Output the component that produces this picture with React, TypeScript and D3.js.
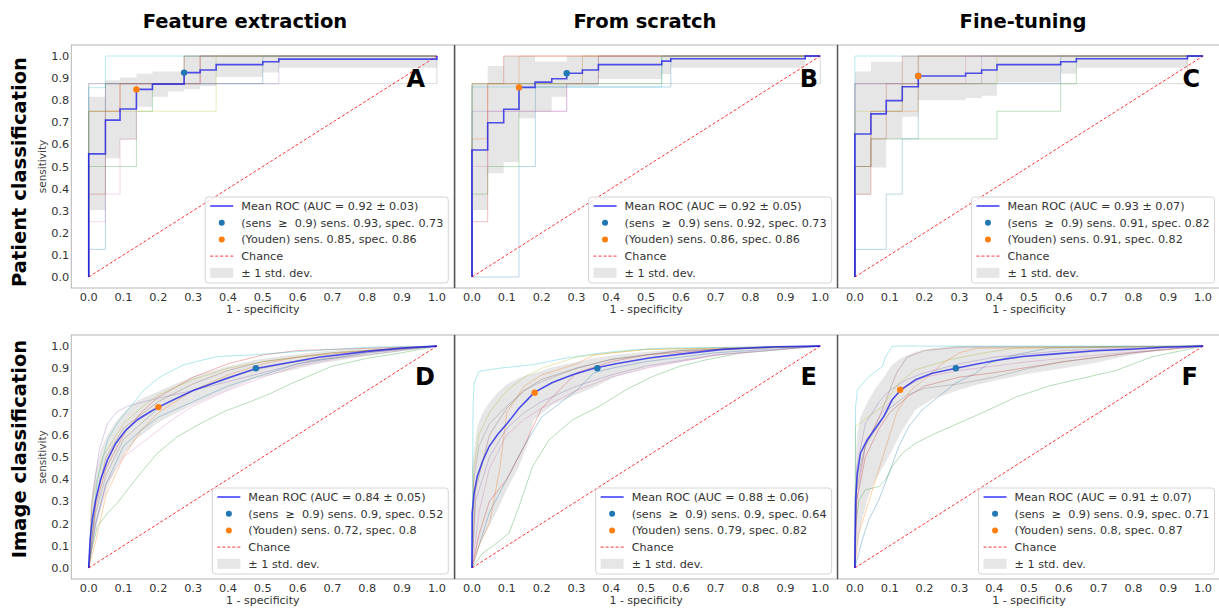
import React, { useEffect, useRef } from "react";
import * as d3 from "d3";

type Pt = [number, number];
type StepFold = { x: number[]; y: number[] };

const FONT = "'DejaVu Sans', 'Liberation Sans', sans-serif";
const FOLD_COLORS = ["#1f77b4", "#ff7f0e", "#2ca02c", "#d62728", "#9467bd", "#8c564b", "#e377c2", "#7f7f7f", "#bcbd22", "#17becf"];

const colTitles = ["Feature extraction", "From scratch", "Fine-tuning"];
const rowTitles = ["Patient classification", "Image classification"];
const panelLetters = ["A", "B", "C", "D", "E", "F"];
const tickValues = [0, 0.1, 0.2, 0.3, 0.4, 0.5, 0.6, 0.7, 0.8, 0.9, 1.0];
const xLabel = "1 - specificity";
const yLabel = "sensitivity";

// legend texts
const meanLabels = [
  "Mean ROC (AUC = 0.92 ± 0.03)",
  "Mean ROC (AUC = 0.92 ± 0.05)",
  "Mean ROC (AUC = 0.93 ± 0.07)",
  "Mean ROC (AUC = 0.84 ± 0.05)",
  "Mean ROC (AUC = 0.88 ± 0.06)",
  "Mean ROC (AUC = 0.91 ± 0.07)",
];
const sensLabels = [
  "(sens  ≥  0.9) sens. 0.93, spec. 0.73",
  "(sens  ≥  0.9) sens. 0.92, spec. 0.73",
  "(sens  ≥  0.9) sens. 0.91, spec. 0.82",
  "(sens  ≥  0.9) sens. 0.9, spec. 0.52",
  "(sens  ≥  0.9) sens. 0.9, spec. 0.64",
  "(sens  ≥  0.9) sens. 0.9, spec. 0.71",
];
const youdenLabels = [
  "(Youden) sens. 0.85, spec. 0.86",
  "(Youden) sens. 0.86, spec. 0.86",
  "(Youden) sens. 0.91, spec. 0.82",
  "(Youden) sens. 0.72, spec. 0.8",
  "(Youden) sens. 0.79, spec. 0.82",
  "(Youden) sens. 0.8, spec. 0.87",
];
const chanceLabel = "Chance";
const stdLabel = "± 1 std. dev.";

// operating points [1 - specificity, sensitivity]
const sensPoints: Pt[] = [[0.274, 0.925], [0.272, 0.922], [0.182, 0.91], [0.48, 0.9], [0.36, 0.9], [0.29, 0.9]];
const youdenPoints: Pt[] = [[0.137, 0.849], [0.135, 0.858], [0.182, 0.91], [0.2, 0.725], [0.18, 0.79], [0.13, 0.803]];

// ---- Panel A (patient, feature extraction): step curves
const aStepX = [0, 0.048, 0.09, 0.137, 0.183, 0.228, 0.274, 0.32, 0.366, 0.5, 0.546, 1.0];
const aMean = [0.557, 0.71, 0.76, 0.849, 0.873, 0.873, 0.925, 0.937, 0.961, 0.974, 0.986, 1.0];
const aUpper = [0.816, 0.891, 0.903, 0.92, 0.93, 0.93, 1, 1, 1, 1, 1, 1];
const aLower = [0.303, 0.537, 0.62, 0.77, 0.816, 0.84, 0.85, 0.864, 0.905, 0.925, 0.947, 1.0];
const aFolds: StepFold[] = [
  { x: [0, 0.048, 0.5], y: [0.125, 0.875, 1.0] },
  { x: [0, 0.09, 0.32], y: [0.75, 0.875, 1.0] },
  { x: [0, 0.137, 0.183, 0.274], y: [0.5, 0.75, 0.875, 1.0] },
  { x: [0, 0.048, 0.09, 0.274], y: [0.375, 0.75, 0.875, 1.0] },
  { x: [0, 0.546], y: [0.875, 1.0] },
  { x: [0, 0.048, 0.32], y: [0.75, 0.875, 1.0] },
  { x: [0, 0.048, 0.09, 0.137, 0.32], y: [0.25, 0.375, 0.625, 0.875, 1.0] },
  { x: [0, 1.0], y: [0.875, 1.0] },
  { x: [0, 0.366], y: [0.75, 1.0] },
  { x: [0, 0.048], y: [0.857, 1.0] },
];

// ---- Panel B (patient, from scratch)
const bStepX = [0, 0.045, 0.091, 0.135, 0.181, 0.229, 0.272, 0.317, 0.363, 0.545, 0.571, 0.957, 1.0];
const bMean = [0.575, 0.698, 0.759, 0.858, 0.882, 0.897, 0.922, 0.937, 0.961, 0.977, 0.988, 1.0, 1.0];
const bUpper = [0.876, 0.955, 1.0, 1.0, 0.975, 0.975, 1, 1, 1, 1, 1, 1, 1];
const bLower = [0.303, 0.469, 0.52, 0.718, 0.748, 0.816, 0.864, 0.864, 0.896, 0.919, 0.947, 1.0, 1.0];
const bFolds: StepFold[] = [
  { x: [0, 0.135, 0.182, 0.571], y: [0, 0.5, 0.86, 1.0] },
  { x: [0, 0.045, 0.135], y: [0.625, 0.875, 1.0] },
  { x: [0, 0.045, 0.135, 0.545], y: [0.375, 0.5, 0.875, 1.0] },
  { x: [0, 0.045, 0.091], y: [0.25, 0.875, 1.0] },
  { x: [0, 0.272, 0.363], y: [0.75, 0.875, 1.0] },
  { x: [0, 0.363], y: [0.875, 1.0] },
  { x: [0, 0.045, 0.272, 0.317], y: [0.5, 0.75, 0.875, 1.0] },
  { x: [0, 1.0], y: [0.875, 1.0] },
  { x: [0, 0.317], y: [0.875, 1.0] },
  { x: [0, 0.545], y: [0.86, 1.0] },
];

// ---- Panel C (patient, fine-tuning)
const cStepX = [0, 0.046, 0.09, 0.136, 0.182, 0.318, 0.364, 0.408, 0.591, 0.636, 0.955, 1.0];
const cMean = [0.647, 0.738, 0.798, 0.861, 0.91, 0.922, 0.937, 0.961, 0.974, 0.988, 1.0, 1.0];
const cUpper = [0.93, 0.974, 0.974, 1, 1, 1, 1, 1, 1, 1, 1, 1];
const cLower = [0.371, 0.496, 0.623, 0.725, 0.8, 0.81, 0.82, 0.88, 0.92, 0.947, 1.0, 1.0];
const cFolds: StepFold[] = [
  { x: [0, 0.09, 0.136, 0.182, 0.591], y: [0.125, 0.375, 0.625, 0.875, 1.0] },
  { x: [0, 0.046, 0.182], y: [0.5, 0.75, 1.0] },
  { x: [0, 0.046, 0.408, 0.591, 0.636], y: [0.5, 0.625, 0.75, 0.875, 1.0] },
  { x: [0, 0.046, 0.09, 0.136], y: [0.375, 0.625, 0.875, 1.0] },
  { x: [0, 0.364], y: [0.875, 1.0] },
  { x: [0, 0.046, 0.136, 0.182], y: [0.5, 0.75, 0.875, 1.0] },
  { x: [0, 0.318], y: [0.875, 1.0] },
  { x: [0, 0.955], y: [0.875, 1.0] },
  { x: [0, 0.136, 0.408], y: [0.75, 0.875, 1.0] },
  { x: [0], y: [1.0] },
];

// ---- Panel D (image, feature extraction): smooth curves
const dX = [0, 0.004, 0.01, 0.02, 0.034, 0.054, 0.078, 0.106, 0.14, 0.178, 0.2, 0.235, 0.3, 0.39, 0.48, 0.58, 0.66, 0.8, 0.9, 1];
const dMean = [0, 0.126, 0.217, 0.307, 0.397, 0.487, 0.562, 0.62, 0.668, 0.705, 0.725, 0.752, 0.8, 0.851, 0.899, 0.927, 0.95, 0.976, 0.991, 1];
const dUpper = [0, 0.25, 0.35, 0.44, 0.53, 0.6, 0.66, 0.71, 0.755, 0.78, 0.795, 0.82, 0.863, 0.905, 0.938, 0.96, 0.975, 0.992, 0.998, 1];
const dLower = [0, 0.02, 0.09, 0.17, 0.26, 0.36, 0.45, 0.52, 0.585, 0.63, 0.655, 0.685, 0.735, 0.795, 0.855, 0.89, 0.92, 0.955, 0.978, 1];
const dFolds: Pt[][] = [
  [[0, 0], [0.02, 0.2], [0.05, 0.38], [0.1, 0.55], [0.15, 0.62], [0.2, 0.68], [0.3, 0.75], [0.4, 0.82], [0.5, 0.87], [0.6, 0.92], [0.8, 0.97], [1, 1]],
  [[0, 0], [0.02, 0.12], [0.05, 0.33], [0.1, 0.5], [0.15, 0.62], [0.2, 0.7], [0.3, 0.8], [0.4, 0.87], [0.5, 0.92], [0.6, 0.95], [0.8, 0.98], [1, 1]],
  [[0, 0], [0.006, 0.066], [0.025, 0.187], [0.054, 0.247], [0.082, 0.292], [0.111, 0.352], [0.149, 0.427], [0.197, 0.517], [0.255, 0.592], [0.322, 0.652], [0.389, 0.705], [0.465, 0.75], [0.52, 0.785], [0.58, 0.83], [0.64, 0.87], [0.7, 0.91], [0.8, 0.945], [0.9, 0.97], [1, 1]],
  [[0, 0], [0.02, 0.28], [0.05, 0.45], [0.1, 0.6], [0.15, 0.7], [0.2, 0.77], [0.3, 0.86], [0.4, 0.92], [0.5, 0.96], [0.6, 0.98], [0.8, 0.99], [1, 1]],
  [[0, 0], [0.01, 0.307], [0.03, 0.53], [0.054, 0.652], [0.082, 0.705], [0.111, 0.728], [0.149, 0.745], [0.2, 0.765], [0.3, 0.8], [0.4, 0.84], [0.5, 0.88], [0.6, 0.92], [0.7, 0.95], [0.8, 0.975], [1, 1]],
  [[0, 0], [0.02, 0.3], [0.05, 0.5], [0.1, 0.63], [0.2, 0.75], [0.3, 0.83], [0.4, 0.89], [0.5, 0.93], [0.7, 0.97], [1, 1]],
  [[0, 0], [0.02, 0.2], [0.05, 0.38], [0.1, 0.5], [0.15, 0.56], [0.2, 0.62], [0.25, 0.68], [0.3, 0.73], [0.4, 0.8], [0.5, 0.86], [0.6, 0.91], [0.7, 0.94], [0.8, 0.97], [1, 1]],
  [[0, 0], [0.02, 0.25], [0.05, 0.42], [0.1, 0.58], [0.2, 0.72], [0.3, 0.8], [0.4, 0.86], [0.5, 0.9], [0.6, 0.93], [0.8, 0.96], [1, 1]],
  [[0, 0], [0.01, 0.3], [0.04, 0.5], [0.1, 0.65], [0.15, 0.72], [0.2, 0.78], [0.3, 0.85], [0.4, 0.9], [0.5, 0.93], [0.7, 0.97], [1, 1]],
  [[0, 0], [0.006, 0.126], [0.025, 0.397], [0.054, 0.577], [0.082, 0.652], [0.12, 0.728], [0.159, 0.803], [0.207, 0.863], [0.273, 0.916], [0.369, 0.953], [0.465, 0.96], [0.6, 0.975], [0.8, 0.995], [1, 1]],
];

// ---- Panel E (image, from scratch)
const eX = [0, 0.0005, 0.006, 0.015, 0.03, 0.049, 0.073, 0.102, 0.135, 0.16, 0.178, 0.231, 0.289, 0.351, 0.413, 0.509, 0.605, 0.72, 0.87, 1];
const eMean = [0, 0.247, 0.337, 0.412, 0.48, 0.547, 0.6, 0.653, 0.72, 0.76, 0.79, 0.836, 0.871, 0.9, 0.92, 0.946, 0.965, 0.985, 0.997, 1];
const eUpper = [0, 0.45, 0.53, 0.638, 0.698, 0.743, 0.79, 0.83, 0.856, 0.87, 0.878, 0.905, 0.925, 0.945, 0.961, 0.976, 0.986, 0.995, 1, 1];
const eLower = [0, 0.01, 0.036, 0.08, 0.13, 0.19, 0.26, 0.36, 0.457, 0.56, 0.668, 0.735, 0.775, 0.815, 0.863, 0.905, 0.93, 0.96, 0.99, 1];
const eFolds: Pt[][] = [
  [[0, 0], [0.02, 0.1], [0.05, 0.25], [0.1, 0.4], [0.15, 0.55], [0.2, 0.68], [0.3, 0.8], [0.35, 0.88], [0.4, 0.9], [0.5, 0.93], [0.7, 0.97], [1, 1]],
  [[0, 0], [0.02, 0.1], [0.05, 0.2], [0.08, 0.45], [0.1, 0.7], [0.15, 0.82], [0.2, 0.87], [0.3, 0.92], [0.35, 0.96], [0.5, 0.985], [1, 1]],
  [[0, 0], [0.03, 0.066], [0.058, 0.096], [0.106, 0.156], [0.135, 0.277], [0.174, 0.457], [0.221, 0.577], [0.289, 0.668], [0.365, 0.728], [0.442, 0.803], [0.519, 0.863], [0.595, 0.908], [0.672, 0.938], [0.77, 0.968], [1, 1]],
  [[0, 0], [0.02, 0.15], [0.05, 0.3], [0.1, 0.4], [0.15, 0.55], [0.2, 0.72], [0.25, 0.8], [0.3, 0.88], [0.4, 0.93], [0.5, 0.96], [0.7, 0.985], [1, 1]],
  [[0, 0], [0.01, 0.3], [0.05, 0.5], [0.1, 0.63], [0.15, 0.7], [0.2, 0.75], [0.3, 0.82], [0.4, 0.87], [0.5, 0.91], [0.7, 0.96], [1, 1]],
  [[0, 0], [0.01, 0.35], [0.05, 0.6], [0.1, 0.72], [0.15, 0.8], [0.2, 0.85], [0.3, 0.9], [0.4, 0.94], [0.6, 0.98], [1, 1]],
  [[0, 0], [0.02, 0.25], [0.05, 0.45], [0.1, 0.6], [0.15, 0.67], [0.2, 0.72], [0.3, 0.8], [0.4, 0.86], [0.5, 0.9], [0.7, 0.96], [1, 1]],
  [[0, 0], [0.005, 0.4], [0.02, 0.55], [0.05, 0.65], [0.1, 0.73], [0.15, 0.8], [0.2, 0.84], [0.3, 0.9], [0.4, 0.94], [0.6, 0.98], [1, 1]],
  [[0, 0], [0.005, 0.45], [0.02, 0.6], [0.05, 0.7], [0.1, 0.8], [0.15, 0.86], [0.2, 0.9], [0.3, 0.95], [0.4, 0.97], [0.5, 0.985], [1, 1]],
  [[0, 0], [0.003, 0.728], [0.006, 0.833], [0.02, 0.886], [0.078, 0.9], [0.174, 0.916], [0.269, 0.946], [0.365, 0.968], [0.461, 0.983], [0.557, 0.991], [1, 1]],
];

// ---- Panel F (image, fine-tuning)
const fX = [0, 0.0005, 0.002, 0.007, 0.016, 0.035, 0.059, 0.083, 0.107, 0.132, 0.174, 0.222, 0.294, 0.347, 0.404, 0.481, 0.577, 0.692, 0.793, 0.889, 1];
const fMean = [0, 0.126, 0.307, 0.427, 0.517, 0.577, 0.63, 0.683, 0.758, 0.803, 0.848, 0.878, 0.901, 0.918, 0.935, 0.953, 0.965, 0.979, 0.986, 0.995, 1];
const fUpper = [0, 0.35, 0.5, 0.6, 0.68, 0.745, 0.81, 0.86, 0.916, 0.945, 0.975, 0.99, 1, 1, 1, 1, 1, 1, 1, 1, 1];
const fLower = [0, 0, 0.04, 0.1, 0.186, 0.307, 0.397, 0.46, 0.53, 0.61, 0.713, 0.76, 0.8, 0.825, 0.845, 0.871, 0.895, 0.925, 0.96, 0.985, 1];
const fFolds: Pt[][] = [
  [[0, 0], [0.021, 0.126], [0.04, 0.217], [0.069, 0.307], [0.098, 0.427], [0.126, 0.547], [0.155, 0.638], [0.193, 0.713], [0.241, 0.773], [0.289, 0.833], [0.347, 0.878], [0.385, 0.923], [0.462, 0.961], [0.557, 0.991], [1, 1]],
  [[0, 0], [0.01, 0.15], [0.04, 0.3], [0.08, 0.5], [0.12, 0.7], [0.16, 0.8], [0.2, 0.85], [0.25, 0.92], [0.3, 0.97], [0.35, 0.99], [1, 1]],
  [[0, 0], [0.002, 0.19], [0.012, 0.307], [0.03, 0.352], [0.07, 0.367], [0.088, 0.397], [0.107, 0.457], [0.136, 0.517], [0.174, 0.562], [0.232, 0.607], [0.299, 0.653], [0.385, 0.713], [0.462, 0.77], [0.557, 0.82], [0.653, 0.855], [0.75, 0.89], [0.85, 0.95], [1, 1]],
  [[0, 0], [0.005, 0.3], [0.03, 0.5], [0.07, 0.63], [0.1, 0.7], [0.15, 0.77], [0.2, 0.82], [0.3, 0.86], [0.4, 0.88], [0.6, 0.93], [0.8, 0.97], [1, 1]],
  [[0, 0], [0.005, 0.45], [0.03, 0.65], [0.07, 0.75], [0.1, 0.8], [0.15, 0.85], [0.2, 0.88], [0.3, 0.92], [0.4, 0.95], [0.6, 0.98], [1, 1]],
  [[0, 0], [0.005, 0.35], [0.03, 0.55], [0.07, 0.68], [0.1, 0.8], [0.12, 0.88], [0.15, 0.95], [0.2, 0.98], [0.3, 0.995], [1, 1]],
  [[0, 0], [0.005, 0.3], [0.03, 0.55], [0.07, 0.68], [0.1, 0.75], [0.15, 0.82], [0.2, 0.86], [0.3, 0.89], [0.5, 0.93], [0.7, 0.96], [1, 1]],
  [[0, 0], [0.005, 0.4], [0.03, 0.55], [0.07, 0.65], [0.1, 0.72], [0.15, 0.78], [0.2, 0.81], [0.3, 0.83], [0.4, 0.86], [0.5, 0.9], [0.6, 0.93], [0.8, 0.97], [1, 1]],
  [[0, 0], [0.002, 0.638], [0.04, 0.683], [0.079, 0.728], [0.126, 0.833], [0.174, 0.893], [0.27, 0.938], [0.366, 0.968], [0.462, 0.991], [1, 1]],
  [[0, 0], [0.002, 0.728], [0.007, 0.803], [0.04, 0.863], [0.079, 0.908], [0.088, 0.953], [0.107, 0.998], [0.13, 1], [1, 1]],
];

// layout (pixels)
const COL_LEFT = [71.3, 454.6, 837.5];
const BOX_W = 383;
const ROW_TOP = [45, 335];
const ROW_BOTTOM = [288, 579];
const TITLE_X = [245, 645, 1023];
const ROW_LABEL_Y = [172, 449];
const LETTER_X = [425, 818, 1200, 435, 817, 1198];
const LETTER_BASE = [87, 385];

type StepPanel = { kind: "step"; gx: number[]; mean: number[]; upper: number[]; lower: number[]; folds: StepFold[] };
type SmoothPanel = { kind: "smooth"; gx: number[]; mean: number[]; upper: number[]; lower: number[]; folds: Pt[][] };

const panels: (StepPanel | SmoothPanel)[] = [
  { kind: "step", gx: aStepX, mean: aMean, upper: aUpper, lower: aLower, folds: aFolds },
  { kind: "step", gx: bStepX, mean: bMean, upper: bUpper, lower: bLower, folds: bFolds },
  { kind: "step", gx: cStepX, mean: cMean, upper: cUpper, lower: cLower, folds: cFolds },
  { kind: "smooth", gx: dX, mean: dMean, upper: dUpper, lower: dLower, folds: dFolds },
  { kind: "smooth", gx: eX, mean: eMean, upper: eUpper, lower: eLower, folds: eFolds },
  { kind: "smooth", gx: fX, mean: fMean, upper: fUpper, lower: fLower, folds: fFolds },
];

// step fold -> vertex list starting at origin and ending at x = 1
function stepPoints(xs: number[], ys: number[]): Pt[] {
  const pts: Pt[] = [[0, 0]];
  xs.forEach((v, k) => pts.push([v, ys[k]]));
  const last = pts[pts.length - 1];
  if (last[0] < 1) pts.push([1, last[1]]);
  return pts;
}

export default function App() {
  const svgRef = useRef<SVGSVGElement>(null);

  useEffect(() => {
    const svg = d3.select(svgRef.current);
    svg.selectAll("*").remove();
    svg.append("rect").attr("width", 1219).attr("height", 610).attr("fill", "#fff");

    // column titles and row titles
    colTitles.forEach((t, c) => {
      svg.append("text").attr("x", TITLE_X[c]).attr("y", 28).attr("text-anchor", "middle")
        .attr("font-family", FONT).attr("font-weight", 700).attr("font-size", 19.5).attr("fill", "#000").text(t);
    });
    rowTitles.forEach((t, r) => {
      svg.append("text").attr("transform", `translate(26,${ROW_LABEL_Y[r]}) rotate(-90)`).attr("text-anchor", "middle")
        .attr("font-family", FONT).attr("font-weight", 700).attr("font-size", 19.5).attr("fill", "#000").text(t);
    });

    panels.forEach((p, i) => {
      const row = Math.floor(i / 3);
      const col = i % 3;
      const left = COL_LEFT[col];
      const right = left + BOX_W;
      const top = ROW_TOP[row];
      const bottom = ROW_BOTTOM[row];
      const x = d3.scaleLinear().domain([-0.05, 1.05]).range([left, right]);
      const y = d3.scaleLinear().domain([-0.05, 1.05]).range([bottom, top]);
      const g = svg.append("g");

      // tick labels
      tickValues.forEach((t) => {
        g.append("text").attr("x", x(t)).attr("y", bottom + 13).attr("text-anchor", "middle")
          .attr("font-family", FONT).attr("font-size", 11.3).attr("fill", "#333").text(d3.format(".1f")(t));
        if (col === 0) {
          g.append("text").attr("x", left - 2).attr("y", y(t)).attr("dy", "0.36em").attr("text-anchor", "end")
            .attr("font-family", FONT).attr("font-size", 11.3).attr("fill", "#333").text(d3.format(".1f")(t));
        }
      });
      g.append("text").attr("x", (left + right) / 2).attr("y", bottom + 25).attr("text-anchor", "middle")
        .attr("font-family", FONT).attr("font-size", 11).attr("fill", "#333").text(xLabel);
      if (col === 0) {
        g.append("text").attr("transform", `translate(46,${(top + bottom) / 2}) rotate(-90)`).attr("text-anchor", "middle")
          .attr("font-family", FONT).attr("font-size", 10.5).attr("fill", "#444").text(yLabel);
      }

      const lineLin = d3.line<Pt>().x((d) => x(d[0])).y((d) => y(d[1]));
      const lineStep = d3.line<Pt>().x((d) => x(d[0])).y((d) => y(d[1])).curve(d3.curveStepAfter);
      const idx = d3.range(p.gx.length);

      // individual folds
      if (p.kind === "step") {
        p.folds.forEach((f, k) => {
          g.append("path").attr("d", lineStep(stepPoints(f.x, f.y))).attr("fill", "none")
            .attr("stroke", FOLD_COLORS[k]).attr("stroke-opacity", 0.3).attr("stroke-width", 1);
        });
      } else {
        p.folds.forEach((f, k) => {
          g.append("path").attr("d", lineLin(f)).attr("fill", "none")
            .attr("stroke", FOLD_COLORS[k]).attr("stroke-opacity", 0.35).attr("stroke-width", 1);
        });
      }

      // chance
      g.append("path").attr("d", lineLin([[0, 0], [1, 1]])).attr("fill", "none")
        .attr("stroke", "red").attr("stroke-opacity", 0.8).attr("stroke-width", 1).attr("stroke-dasharray", "3,2");

      // mean ROC and std band
      if (p.kind === "step") {
        const meanPts = stepPoints(p.gx, p.mean);
        g.append("path").attr("d", lineStep(meanPts)).attr("fill", "none")
          .attr("stroke", "blue").attr("stroke-opacity", 0.75).attr("stroke-width", 1.6);
        const band = d3.area<number>().x((k) => x(p.gx[k])).y0((k) => y(p.lower[k])).y1((k) => y(p.upper[k])).curve(d3.curveStepAfter);
        g.append("path").attr("d", band(idx)).attr("fill", "grey").attr("fill-opacity", 0.2);
      } else {
        g.append("path").attr("d", lineLin(idx.map((k) => [p.gx[k], p.mean[k]] as Pt))).attr("fill", "none")
          .attr("stroke", "blue").attr("stroke-opacity", 0.75).attr("stroke-width", 1.6);
        const band = d3.area<number>().x((k) => x(p.gx[k])).y0((k) => y(p.lower[k])).y1((k) => y(p.upper[k]));
        g.append("path").attr("d", band(idx)).attr("fill", "grey").attr("fill-opacity", 0.2);
      }

      // operating points
      g.append("circle").attr("cx", x(sensPoints[i][0])).attr("cy", y(sensPoints[i][1])).attr("r", 3.2).attr("fill", "#1f77b4");
      g.append("circle").attr("cx", x(youdenPoints[i][0])).attr("cy", y(youdenPoints[i][1])).attr("r", 3.2).attr("fill", "#ff7f0e");

      // panel letter
      g.append("text").attr("x", LETTER_X[i]).attr("y", LETTER_BASE[row]).attr("text-anchor", "end")
        .attr("font-family", FONT).attr("font-weight", 700).attr("font-size", 24).attr("fill", "#000").text(panelLetters[i]);

      // legend (lower right)
      const labels = [meanLabels[i], sensLabels[i], youdenLabels[i], chanceLabel, stdLabel];
      const lg = g.append("g");
      const frame = lg.append("rect");
      const rowH = 16.7;
      const texts = labels.map((t) =>
        lg.append("text").attr("font-family", FONT).attr("font-size", 11.2).attr("fill", "#333")
          .style("white-space", "pre").text(t)
      );
      const maxW = d3.max(texts, (t) => (t.node() as SVGTextElement).getComputedTextLength()) || 200;
      const lw = maxW + 36 + 5;
      const lh = 86;
      const lx = right - 6 - lw;
      const ly = bottom - 5 - lh;
      frame.attr("x", lx).attr("y", ly).attr("width", lw).attr("height", lh).attr("rx", 3)
        .attr("fill", "#fff").attr("fill-opacity", 0.8).attr("stroke", "#d5d5d5").attr("stroke-width", 1);
      texts.forEach((t, k) => {
        t.attr("x", lx + 36).attr("y", ly + 9 + k * rowH).attr("dy", "0.36em");
      });
      const cy = (k: number) => ly + 9 + k * rowH;
      lg.append("line").attr("x1", lx + 5).attr("x2", lx + 28).attr("y1", cy(0)).attr("y2", cy(0))
        .attr("stroke", "blue").attr("stroke-opacity", 0.75).attr("stroke-width", 1.6);
      lg.append("circle").attr("cx", lx + 16.5).attr("cy", cy(1)).attr("r", 3).attr("fill", "#1f77b4");
      lg.append("circle").attr("cx", lx + 16.5).attr("cy", cy(2)).attr("r", 3).attr("fill", "#ff7f0e");
      lg.append("line").attr("x1", lx + 5).attr("x2", lx + 28).attr("y1", cy(3)).attr("y2", cy(3))
        .attr("stroke", "red").attr("stroke-opacity", 0.8).attr("stroke-width", 1).attr("stroke-dasharray", "3,2");
      lg.append("rect").attr("x", lx + 5).attr("y", cy(4) - 5).attr("width", 23).attr("height", 10)
        .attr("fill", "grey").attr("fill-opacity", 0.2);

      // axes frame
      g.append("rect").attr("x", left).attr("y", top).attr("width", BOX_W).attr("height", bottom - top)
        .attr("fill", "none").attr("stroke", "#b5b5b5").attr("stroke-width", 1);
    });

    // dark separators between the panel images
    [0, 1].forEach((r) => {
      [COL_LEFT[1], COL_LEFT[2]].forEach((sx) => {
        svg.append("line").attr("x1", sx).attr("x2", sx).attr("y1", ROW_TOP[r]).attr("y2", ROW_BOTTOM[r])
          .attr("stroke", "#555").attr("stroke-width", 1.5);
      });
    });

    return () => {
      svg.selectAll("*").remove();
    };
  }, []);

  return (
    <svg ref={svgRef} width={1219} height={610} style={{ position: "absolute", left: 0, top: 0, display: "block" }} />
  );
}
